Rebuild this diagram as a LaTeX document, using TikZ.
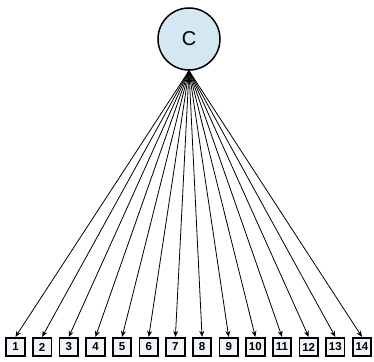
\documentclass[tikz,border=0pt]{standalone}
\usepackage{fontspec}
\setmainfont{Liberation Sans}
\usetikzlibrary{arrows.meta}
\definecolor{circfill}{HTML}{D3E8F0}
\definecolor{boxfill}{HTML}{EEF4F8}
\tikzset{
  latent/.style={circle, draw=black, line width=1.5pt, fill=circfill, minimum size=62pt, inner sep=0pt, font=\fontsize{20}{20}\selectfont},
  indic/.style={rectangle, draw=black, line width=1.8pt, fill=boxfill, minimum size=18.5pt, inner sep=0pt, font=\bfseries\fontsize{11.5}{11.5}\selectfont},
  conn/.style={-{Stealth[length=6pt,width=5pt]}, line width=0.8pt}
}
\begin{document}
\begin{tikzpicture}[x=1pt,y=1pt]
\useasboundingbox (0,0) rectangle (374,361);
\node[latent] (C) at (189,322) {C};
\foreach \i in {1,...,14} {
  \node[indic] (b\i) at ({15.5+26.65*(\i-1)},14) {\i};
  \draw[conn] (C.south) -- (b\i.north);
}
\end{tikzpicture}
\end{document}
